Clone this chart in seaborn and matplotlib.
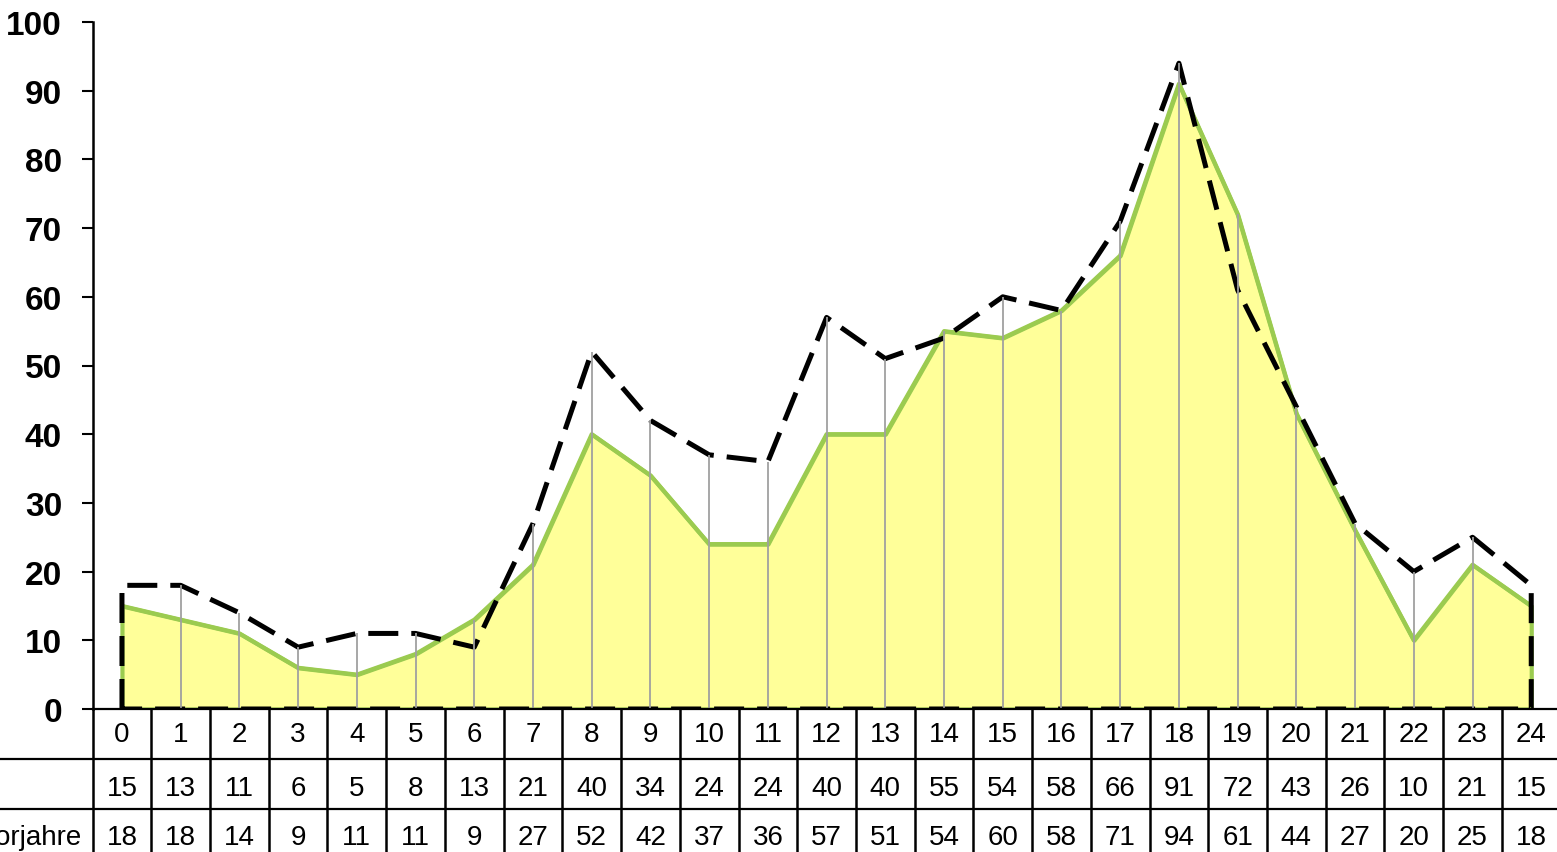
import numpy as np
import pandas as pd
import seaborn as sns
import matplotlib.pyplot as plt
from matplotlib.transforms import blended_transform_factory
from matplotlib.lines import Line2D

# data
hours = list(range(25))
current = [15, 13, 11, 6, 5, 8, 13, 21, 40, 34, 24, 24, 40, 40, 55, 54, 58, 66, 91, 72, 43, 26, 10, 21, 15]
vorjahre = [18, 18, 14, 9, 11, 11, 9, 27, 52, 42, 37, 36, 57, 51, 54, 60, 58, 71, 94, 61, 44, 27, 20, 25, 18]
row_labels = ["", "", "Vorjahre"]

sns.set_theme(style="white")
plt.rcParams['font.family'] = ['Liberation Sans', 'DejaVu Sans']

fill_col = "#FFFF99"
green = "#9BCB50"
W, H = 1557, 853
fig = plt.figure(figsize=(W / 100, H / 100), dpi=100)
cell = 58.72
ax = fig.add_axes([92.6 / W, 143 / H, 25 * cell / W, 687 / H])

df = pd.DataFrame({"hour": hours, "current": current, "vorjahre": vorjahre})

# current year: yellow area with green outline
ax.fill_between(df["hour"], 0, df["current"], facecolor=fill_col, edgecolor=green, linewidth=3, zorder=1)
sns.lineplot(data=df, x="hour", y="current", color=green, linewidth=3, ax=ax, zorder=3)

# previous years: dashed closed outline
outline = pd.DataFrame({"hour": [hours[0]] + hours + [hours[-1], hours[0]],
                        "value": [0] + vorjahre + [0, 0]})
sns.lineplot(data=outline, x="hour", y="value", sort=False, estimator=None, color="black",
             linewidth=3.6, linestyle=(0, (6, 2.6)), ax=ax, zorder=4)

# drop lines (drawn on top, except at the outer edges)
ax.vlines(df["hour"][1:-1], 0, np.maximum(df["current"], df["vorjahre"])[1:-1],
          colors="#a0a0a0", linewidth=1.3, zorder=5)

ax.set_xlim(-0.5, 24.5)
ax.set_ylim(0, 100)
ax.set_xlabel("")
ax.set_ylabel("")
ax.set_xticks([])
ax.set_yticks(range(0, 101, 10))
ax.tick_params(axis="y", direction="out", length=8, width=1.5, pad=14, labelsize=24, colors="black", left=True)
for lab in ax.get_yticklabels():
    lab.set_fontweight("bold")
for s in ["top", "right"]:
    ax.spines[s].set_visible(False)
ax.spines["left"].set_color("black")
ax.spines["left"].set_linewidth(1.8)
ax.spines["bottom"].set_color("black")
ax.spines["bottom"].set_linewidth(1.6)
ax.spines["bottom"].set_zorder(6)

# data table under the chart
rh = 50 / 687
text_shift = [0, 4 / 687, 3 / 687]
trans = blended_transform_factory(ax.transData, ax.transAxes)
ftrans = blended_transform_factory(fig.transFigure, ax.transAxes)
rows = [[str(h) for h in hours], [str(v) for v in current], [str(v) for v in vorjahre]]
for i, row in enumerate(rows):
    yc = -(i + 0.5) * rh - text_shift[i]
    for h, txt in zip(hours, row):
        ax.text(h, yc, txt, transform=trans, ha="center", va="center", fontsize=20, color="black")
    fig.text(82 / W, yc, row_labels[i], transform=ftrans, ha="right", va="center", fontsize=20, color="black")
for b in np.arange(-0.5, 25, 1):
    ax.plot([b, b], [0, -3 * rh], transform=trans, clip_on=False, color="black", linewidth=1.8)
for i in range(1, 4):
    fig.add_artist(Line2D([0, 1], [-i * rh, -i * rh], transform=ftrans, color="black", linewidth=1.6))

fig.savefig("out.png", dpi=100)
